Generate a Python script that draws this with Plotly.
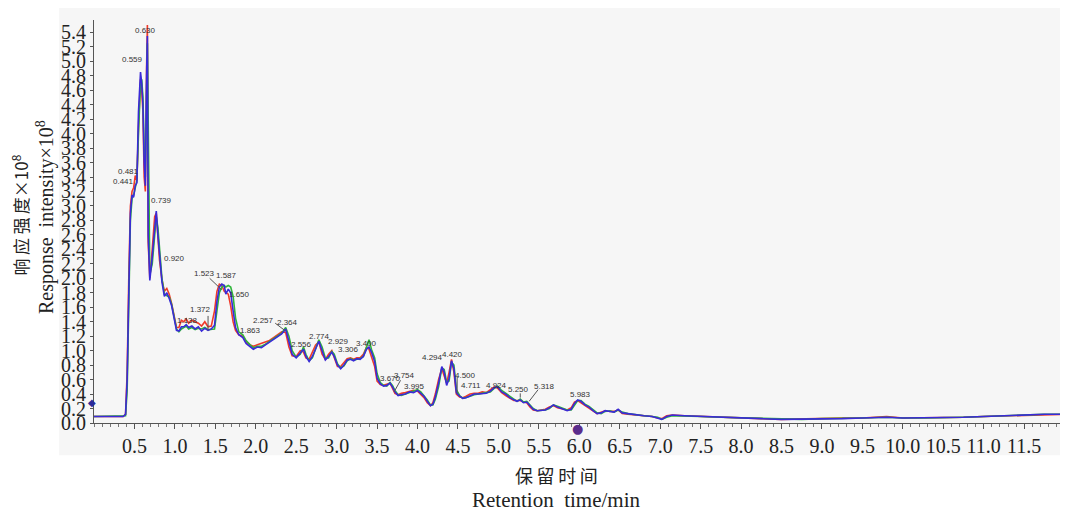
import plotly.graph_objects as go

# ---------------- data ----------------
times = [
    0.00, 0.10, 0.20, 0.30, 0.36, 0.39, 0.41, 0.43, 0.45, 0.47,
    0.49, 0.51, 0.53, 0.55, 0.56, 0.575, 0.59, 0.605, 0.62, 0.635,
    0.65, 0.66, 0.67, 0.69, 0.72, 0.75, 0.77, 0.79, 0.81, 0.84,
    0.87, 0.90, 0.93, 0.96, 0.99, 1.02, 1.05, 1.08, 1.11, 1.14,
    1.17, 1.21, 1.25, 1.29, 1.33, 1.37, 1.41, 1.45, 1.49, 1.52,
    1.55, 1.58, 1.61, 1.63, 1.66, 1.69, 1.72, 1.75, 1.79, 1.84,
    1.88, 1.93, 1.97, 2.02, 2.07, 2.12, 2.17, 2.22, 2.27, 2.32,
    2.37, 2.41, 2.45, 2.50, 2.55, 2.59, 2.62, 2.66, 2.70, 2.74,
    2.78, 2.82, 2.86, 2.90, 2.94, 2.97, 3.01, 3.05, 3.09, 3.13,
    3.17, 3.21, 3.25, 3.29, 3.33, 3.37, 3.40, 3.43, 3.47, 3.50,
    3.54, 3.58, 3.62, 3.66, 3.69, 3.72, 3.76, 3.80, 3.85, 3.90,
    3.95, 4.00, 4.04, 4.08, 4.12, 4.16, 4.19, 4.22, 4.26, 4.30,
    4.33, 4.36, 4.39, 4.42, 4.45, 4.48, 4.52, 4.56, 4.60, 4.65,
    4.70, 4.75, 4.80, 4.85, 4.90, 4.95, 4.99, 5.04, 5.09, 5.14,
    5.19, 5.23, 5.27, 5.31, 5.35, 5.39, 5.43, 5.48, 5.53, 5.58,
    5.63, 5.68, 5.73, 5.79, 5.85, 5.90, 5.94, 5.98, 6.02, 6.07,
    6.12, 6.17, 6.22, 6.27, 6.32, 6.38, 6.43, 6.48, 6.53, 6.60,
    6.70, 6.80, 6.90, 6.97, 7.02, 7.08, 7.15, 7.30, 7.50, 7.75,
    8.00, 8.25, 8.50, 8.75, 9.00, 9.25, 9.50, 9.80, 10.00, 10.25,
    10.50, 10.75, 11.00, 11.25, 11.50, 11.75, 12.00,
]

intensity_red = [
    0.09, 0.09, 0.09, 0.09, 0.09, 0.12, 0.70, 2.00, 3.00, 3.20,
    3.25, 3.42, 3.35, 4.10, 4.50, 4.75, 4.60, 4.30, 3.40, 3.20,
    4.90, 5.50, 2.50, 2.00, 2.40, 2.85, 2.90, 2.55, 2.25, 1.98,
    1.82, 1.86, 1.78, 1.65, 1.48, 1.32, 1.32, 1.42, 1.40, 1.44,
    1.38, 1.42, 1.40, 1.38, 1.34, 1.40, 1.33, 1.34, 1.55, 1.82,
    1.92, 1.90, 1.82, 1.80, 1.78, 1.62, 1.40, 1.28, 1.22, 1.20,
    1.12, 1.08, 1.06, 1.08, 1.10, 1.12, 1.14, 1.18, 1.22, 1.26,
    1.25, 1.05, 0.93, 0.92, 1.00, 0.98, 0.90, 0.88, 0.98, 1.08,
    1.12, 0.95, 0.88, 0.95, 1.00, 0.90, 0.78, 0.78, 0.84, 0.89,
    0.90, 0.88, 0.90, 0.90, 0.95, 1.05, 1.02, 0.92, 0.78, 0.58,
    0.53, 0.52, 0.54, 0.55, 0.48, 0.41, 0.39, 0.41, 0.42, 0.44,
    0.45, 0.44, 0.40, 0.35, 0.28, 0.24, 0.28, 0.40, 0.60, 0.75,
    0.65, 0.55, 0.70, 0.88, 0.70, 0.40, 0.36, 0.35, 0.37, 0.40,
    0.41, 0.41, 0.43, 0.42, 0.46, 0.50, 0.48, 0.42, 0.38, 0.34,
    0.31, 0.31, 0.31, 0.29, 0.28, 0.22, 0.18, 0.17, 0.18, 0.19,
    0.22, 0.24, 0.21, 0.19, 0.18, 0.21, 0.29, 0.31, 0.28, 0.24,
    0.20, 0.16, 0.13, 0.15, 0.17, 0.16, 0.16, 0.18, 0.13, 0.12,
    0.11, 0.10, 0.09, 0.07, 0.06, 0.10, 0.11, 0.10, 0.09, 0.08,
    0.07, 0.06, 0.05, 0.06, 0.06, 0.07, 0.07, 0.09, 0.07, 0.07,
    0.07, 0.08, 0.09, 0.10, 0.11, 0.12, 0.12,
]

intensity_green = [
    0.09, 0.09, 0.09, 0.09, 0.09, 0.10, 0.45, 1.60, 2.80, 3.10,
    3.15, 3.25, 3.35, 4.00, 4.40, 4.70, 4.75, 4.50, 3.80, 3.40,
    4.60, 5.25, 4.20, 2.05, 2.20, 2.65, 2.85, 2.70, 2.40, 2.00,
    1.78, 1.76, 1.74, 1.64, 1.46, 1.30, 1.26, 1.30, 1.32, 1.34,
    1.30, 1.32, 1.29, 1.31, 1.30, 1.32, 1.29, 1.30, 1.30, 1.55,
    1.80, 1.88, 1.90, 1.88, 1.90, 1.88, 1.75, 1.45, 1.26, 1.22,
    1.14, 1.08, 1.04, 1.06, 1.06, 1.09, 1.13, 1.17, 1.21, 1.24,
    1.32, 1.20, 1.00, 0.91, 0.95, 1.05, 0.95, 0.86, 0.90, 1.02,
    1.15, 1.05, 0.90, 0.90, 0.99, 0.95, 0.82, 0.76, 0.79, 0.86,
    0.89, 0.87, 0.88, 0.89, 0.92, 1.05, 1.15, 1.02, 0.90, 0.68,
    0.56, 0.52, 0.51, 0.56, 0.52, 0.45, 0.39, 0.38, 0.40, 0.42,
    0.44, 0.46, 0.43, 0.38, 0.32, 0.25, 0.25, 0.33, 0.50, 0.76,
    0.74, 0.56, 0.58, 0.84, 0.80, 0.46, 0.38, 0.34, 0.35, 0.37,
    0.39, 0.40, 0.41, 0.42, 0.43, 0.48, 0.51, 0.45, 0.41, 0.36,
    0.33, 0.30, 0.33, 0.29, 0.30, 0.25, 0.20, 0.17, 0.17, 0.18,
    0.20, 0.25, 0.23, 0.20, 0.18, 0.18, 0.25, 0.31, 0.31, 0.26,
    0.23, 0.18, 0.14, 0.13, 0.16, 0.17, 0.15, 0.18, 0.15, 0.13,
    0.11, 0.10, 0.09, 0.08, 0.05, 0.08, 0.10, 0.10, 0.09, 0.08,
    0.07, 0.06, 0.05, 0.05, 0.06, 0.06, 0.07, 0.08, 0.07, 0.07,
    0.07, 0.08, 0.09, 0.10, 0.12, 0.12, 0.12,
]

intensity_blue = [
    0.09, 0.09, 0.09, 0.09, 0.09, 0.12, 0.60, 1.80, 2.90, 3.15,
    3.12, 3.28, 3.32, 4.30, 4.60, 4.85, 4.70, 4.40, 3.60, 3.28,
    4.80, 5.35, 2.60, 1.97, 2.30, 2.75, 2.93, 2.60, 2.30, 1.95,
    1.75, 1.80, 1.72, 1.62, 1.45, 1.28, 1.27, 1.33, 1.33, 1.36,
    1.32, 1.34, 1.30, 1.33, 1.27, 1.31, 1.28, 1.30, 1.35, 1.68,
    1.88, 1.92, 1.90, 1.78, 1.85, 1.80, 1.55, 1.32, 1.22, 1.18,
    1.10, 1.06, 1.02, 1.05, 1.04, 1.08, 1.12, 1.15, 1.20, 1.23,
    1.30, 1.12, 0.95, 0.90, 0.97, 1.02, 0.92, 0.85, 0.92, 1.03,
    1.13, 1.00, 0.87, 0.92, 0.98, 0.92, 0.80, 0.75, 0.80, 0.87,
    0.88, 0.86, 0.89, 0.88, 0.92, 1.02, 1.05, 0.98, 0.85, 0.62,
    0.54, 0.51, 0.52, 0.55, 0.50, 0.43, 0.38, 0.39, 0.40, 0.43,
    0.42, 0.45, 0.41, 0.37, 0.30, 0.24, 0.26, 0.36, 0.55, 0.78,
    0.70, 0.52, 0.62, 0.86, 0.75, 0.42, 0.37, 0.34, 0.35, 0.38,
    0.40, 0.40, 0.41, 0.41, 0.44, 0.49, 0.50, 0.43, 0.40, 0.35,
    0.32, 0.30, 0.32, 0.28, 0.29, 0.24, 0.19, 0.17, 0.18, 0.18,
    0.21, 0.25, 0.22, 0.20, 0.17, 0.19, 0.27, 0.32, 0.30, 0.25,
    0.22, 0.17, 0.13, 0.14, 0.17, 0.16, 0.15, 0.19, 0.14, 0.13,
    0.11, 0.10, 0.09, 0.07, 0.05, 0.09, 0.11, 0.10, 0.09, 0.08,
    0.07, 0.06, 0.05, 0.05, 0.06, 0.06, 0.07, 0.08, 0.07, 0.07,
    0.07, 0.08, 0.09, 0.10, 0.12, 0.12, 0.12,
]

# peak labels (text, label time, label intensity)
peak_labels = ["0.441", "0.481", "0.559", "0.630", "0.739", "0.920", "1.138",
               "1.372", "1.523", "1.587", "1.650", "1.863", "2.257", "2.364",
               "2.556", "2.774", "2.929", "3.306", "3.400", "3.670", "3.754",
               "3.995", "4.294", "4.420", "4.500", "4.711", "4.924", "5.250",
               "5.318", "5.983"]
peak_label_t = [0.37, 0.43, 0.48, 0.64, 0.84, 0.99, 1.16,
                1.32, 1.36, 1.64, 1.80, 1.94, 2.10, 2.39,
                2.56, 2.79, 3.02, 3.15, 3.37, 3.67, 3.84,
                3.96, 4.19, 4.43, 4.59, 4.66, 4.98, 5.25,
                5.57, 6.01]
peak_label_v = [3.34, 3.47, 5.03, 5.43, 3.08, 2.27, 1.41,
                1.57, 2.06, 2.04, 1.78, 1.28, 1.42, 1.39,
                1.08, 1.20, 1.12, 1.01, 1.10, 0.61, 0.66,
                0.50, 0.91, 0.94, 0.66, 0.52, 0.52, 0.46,
                0.50, 0.39]

# leader lines from labels to peaks
leader_t0 = [1.43, 2.24, 3.79, 5.49, 1.41, 4.49, 5.27]
leader_v0 = [2.00, 1.38, 0.59, 0.46, 1.48, 0.64, 0.41]
leader_t1 = [1.58, 2.37, 3.71, 5.38, 1.41, 4.49, 5.27]
leader_v1 = [1.84, 1.27, 0.43, 0.30, 1.28, 0.41, 0.35]

# instrument event markers (time, intensity) just outside the axes
event_t = [-0.02, 5.98]
event_v = [0.29, -0.07]

x_ticks = [0.5, 1.0, 1.5, 2.0, 2.5, 3.0, 3.5, 4.0, 4.5, 5.0, 5.5, 6.0,
           6.5, 7.0, 7.5, 8.0, 8.5, 9.0, 9.5, 10.0, 10.5, 11.0, 11.5]

X_RANGE = [0, 11.98]
Y_RANGE = [0, 5.57]

# ---------------- figure ----------------
fig = go.Figure()

series = [
    ("red", intensity_red, "#f03a2a"),
    ("green", intensity_green, "#2fb53a"),
    ("blue", intensity_blue, "#3a2ad8"),
]
for name, vals, col in series:
    fig.add_trace(go.Scatter(x=times, y=vals, mode="lines", name=name,
                             line=dict(color=col, width=1.6),
                             hoverinfo="skip", showlegend=False))


def to_paper_x(t):
    return (t - X_RANGE[0]) / (X_RANGE[1] - X_RANGE[0])


def to_paper_y(v):
    return (v - Y_RANGE[0]) / (Y_RANGE[1] - Y_RANGE[0])


# event markers (outside the axis ranges, so placed via paper coordinates)
event_glyphs = ["◆", "●"]
event_colors = ["#2a2a9a", "#5b2c8c"]
event_sizes = [10, 13]
for t, v, g, c, s in zip(event_t, event_v, event_glyphs, event_colors, event_sizes):
    fig.add_annotation(x=to_paper_x(t), y=to_paper_y(v), xref="paper", yref="paper",
                       text=g, showarrow=False,
                       font=dict(family="DejaVu Sans", size=s, color=c),
                       xanchor="center", yanchor="middle")

for txt, t, v in zip(peak_labels, peak_label_t, peak_label_v):
    fig.add_annotation(x=t, y=v, xref="x", yref="y", text=txt, showarrow=False,
                       font=dict(family="Liberation Sans, Arial", size=8, color="#333"),
                       xanchor="center", yanchor="middle")

for a, b, c, d in zip(leader_t0, leader_v0, leader_t1, leader_v1):
    fig.add_shape(type="line", xref="x", yref="y", x0=a, y0=b, x1=c, y1=d,
                  line=dict(color="#555", width=1))

# light gray image panel behind the chart
fig.add_shape(type="rect", xref="paper", yref="paper", x0=-0.036, x1=1.01,
              y0=-0.08, y1=1.04, fillcolor="#f6f6f6", line=dict(width=0),
              layer="below")

serif = "Liberation Serif"
cjk = "Noto Sans CJK SC"

# page body has an 8px margin: figure sized so that it fills the window exactly
fig.update_layout(
    width=1060, height=506,
    margin=dict(l=86, r=5, t=12, b=91),
    paper_bgcolor="white",
    plot_bgcolor="rgba(0,0,0,0)",
    showlegend=False,
    xaxis=dict(range=X_RANGE, tickvals=x_ticks, tickformat=".1f",
               ticks="outside", ticklen=5, tickcolor="#555",
               minor=dict(dtick=0.1, ticks="outside", ticklen=3, tickcolor="#777"),
               showline=True, linecolor="#555", linewidth=1,
               showgrid=False, zeroline=False,
               tickfont=dict(family=serif, size=20, color="#222")),
    yaxis=dict(range=Y_RANGE, dtick=0.2, tick0=0, tickformat=".1f",
               ticks="outside", ticklen=3, tickcolor="#555",
               showline=True, linecolor="#555", linewidth=1,
               showgrid=False, zeroline=False,
               tickfont=dict(family=serif, size=20, color="#222")),
)

# axis titles
fig.add_annotation(xref="paper", yref="paper", x=-0.0760, y=0.516,
                   text="响\u2009应\u2009强\u2009度×10<sup>8</sup>", textangle=-90,
                   showarrow=False, font=dict(family=cjk, size=17, color="#222"),
                   xanchor="center", yanchor="middle")
fig.add_annotation(xref="paper", yref="paper", x=-0.0506, y=0.511,
                   text="Response  intensity×10<sup>8</sup>", textangle=-90,
                   showarrow=False, font=dict(family=serif, size=20, color="#222"),
                   xanchor="center", yanchor="middle")
fig.add_annotation(xref="paper", yref="paper", x=0.477, y=-0.129,
                   text="保\u2009留\u2009时\u2009间", showarrow=False,
                   font=dict(family=cjk, size=18, color="#222"),
                   xanchor="center", yanchor="middle")
fig.add_annotation(xref="paper", yref="paper", x=0.477, y=-0.191,
                   text="Retention  time/min", showarrow=False,
                   font=dict(family=serif, size=21, color="#222"),
                   xanchor="center", yanchor="middle")

fig.write_html("out.html")
